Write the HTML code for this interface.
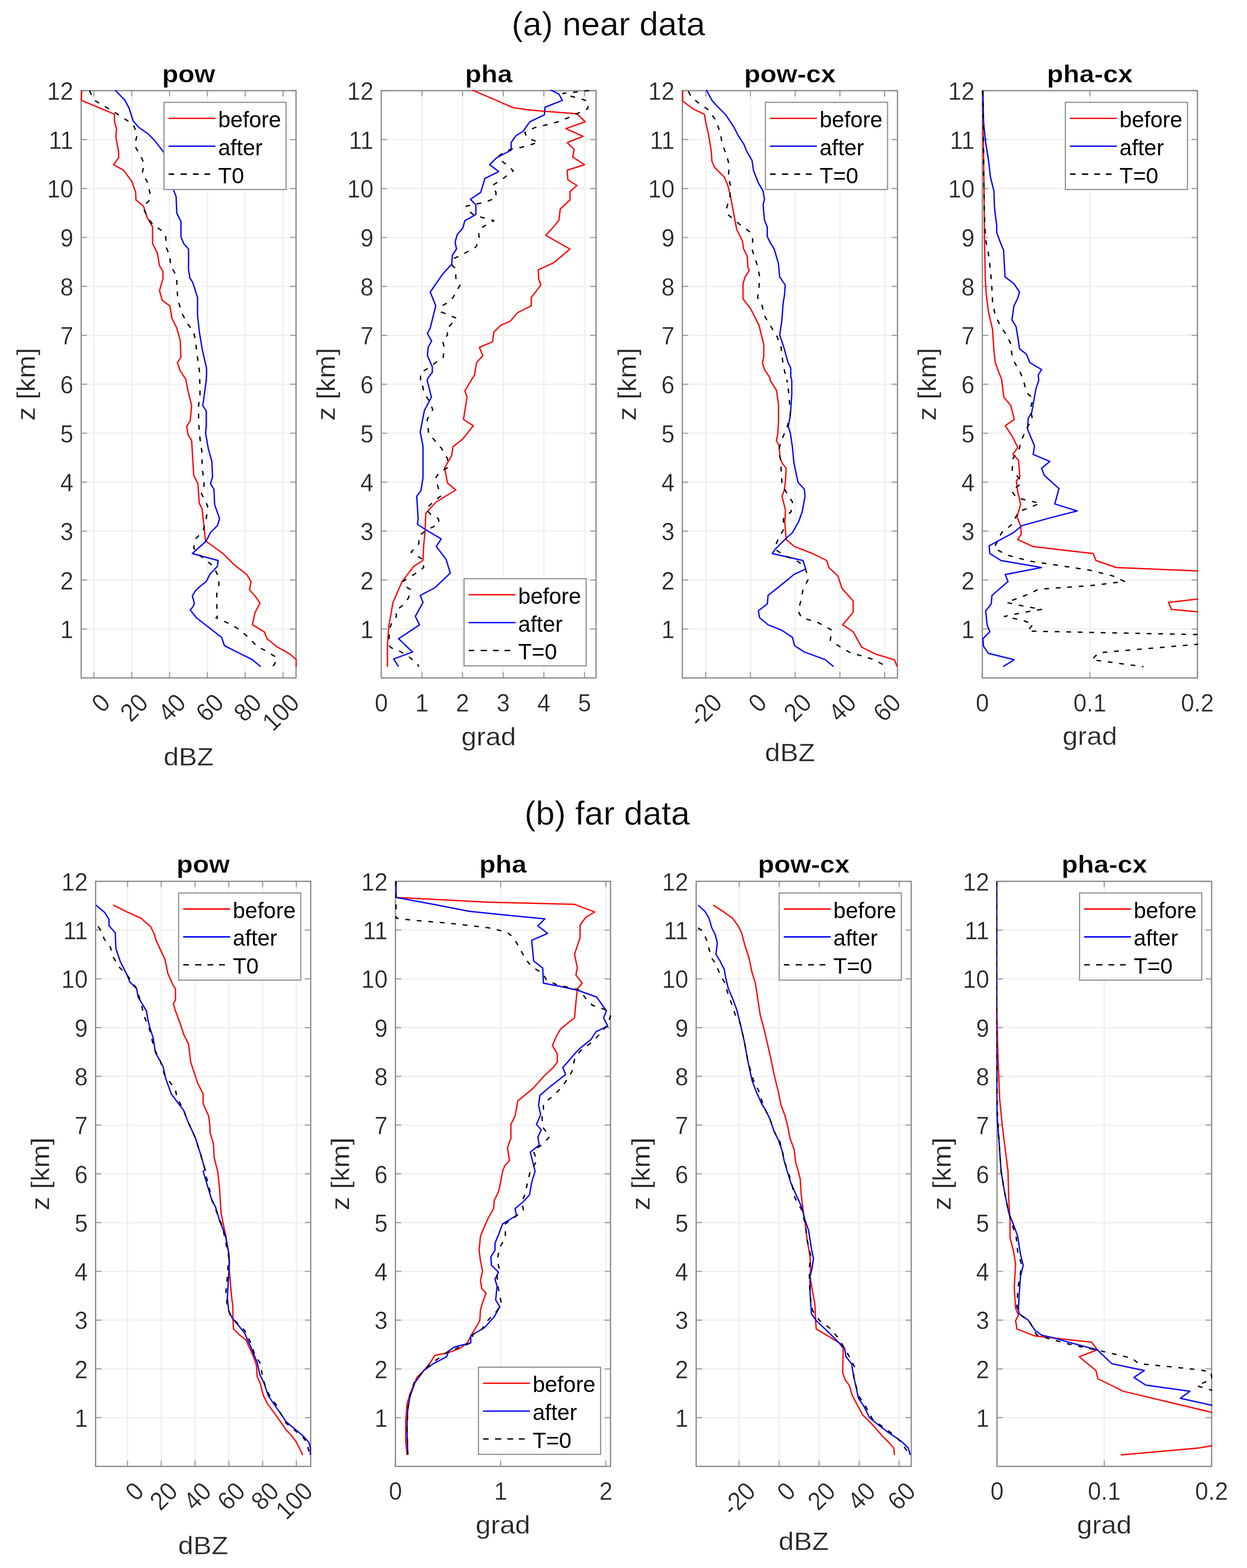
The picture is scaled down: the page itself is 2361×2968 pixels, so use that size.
<!DOCTYPE html><html><head><meta charset="utf-8"><style>html,body{margin:0;padding:0;background:#fff;overflow:hidden}svg{display:block}text{font-family:"Liberation Sans",Arial,sans-serif;stroke:#fff;stroke-width:0.4px}text.b{stroke-width:0.4px}text.l{stroke:none}</style></head><body>
<svg width="2361" height="2968" viewBox="0 0 2361 2968">
<rect width="2361" height="2968" fill="#fff"/>
<text transform="translate(1152.00 67.20) scale(1.0 0.98)" font-size="64" text-anchor="middle" fill="#000">(a) near data</text>
<text transform="translate(1149.60 1560.80) scale(1.0 0.98)" font-size="64" text-anchor="middle" fill="#000">(b) far data</text>
<line x1="177.7" y1="171.6" x2="177.7" y2="1283.2" stroke="#f0f0f0" stroke-width="2.6"/><line x1="249.4" y1="171.6" x2="249.4" y2="1283.2" stroke="#f0f0f0" stroke-width="2.6"/><line x1="321.0" y1="171.6" x2="321.0" y2="1283.2" stroke="#f0f0f0" stroke-width="2.6"/><line x1="392.7" y1="171.6" x2="392.7" y2="1283.2" stroke="#f0f0f0" stroke-width="2.6"/><line x1="464.3" y1="171.6" x2="464.3" y2="1283.2" stroke="#f0f0f0" stroke-width="2.6"/><line x1="536.0" y1="171.6" x2="536.0" y2="1283.2" stroke="#f0f0f0" stroke-width="2.6"/><line x1="153.7" y1="1190.6" x2="560.5" y2="1190.6" stroke="#f0f0f0" stroke-width="2.6"/><line x1="153.7" y1="1097.9" x2="560.5" y2="1097.9" stroke="#f0f0f0" stroke-width="2.6"/><line x1="153.7" y1="1005.3" x2="560.5" y2="1005.3" stroke="#f0f0f0" stroke-width="2.6"/><line x1="153.7" y1="912.7" x2="560.5" y2="912.7" stroke="#f0f0f0" stroke-width="2.6"/><line x1="153.7" y1="820.0" x2="560.5" y2="820.0" stroke="#f0f0f0" stroke-width="2.6"/><line x1="153.7" y1="727.4" x2="560.5" y2="727.4" stroke="#f0f0f0" stroke-width="2.6"/><line x1="153.7" y1="634.8" x2="560.5" y2="634.8" stroke="#f0f0f0" stroke-width="2.6"/><line x1="153.7" y1="542.1" x2="560.5" y2="542.1" stroke="#f0f0f0" stroke-width="2.6"/><line x1="153.7" y1="449.5" x2="560.5" y2="449.5" stroke="#f0f0f0" stroke-width="2.6"/><line x1="153.7" y1="356.9" x2="560.5" y2="356.9" stroke="#f0f0f0" stroke-width="2.6"/><line x1="153.7" y1="264.2" x2="560.5" y2="264.2" stroke="#f0f0f0" stroke-width="2.6"/>
<path d="M177.7 1283.2v-11M177.7 171.6v11M249.4 1283.2v-11M249.4 171.6v11M321.0 1283.2v-11M321.0 171.6v11M392.7 1283.2v-11M392.7 171.6v11M464.3 1283.2v-11M464.3 171.6v11M536.0 1283.2v-11M536.0 171.6v11M153.7 1190.6h11M560.5 1190.6h-11M153.7 1097.9h11M560.5 1097.9h-11M153.7 1005.3h11M560.5 1005.3h-11M153.7 912.7h11M560.5 912.7h-11M153.7 820.0h11M560.5 820.0h-11M153.7 727.4h11M560.5 727.4h-11M153.7 634.8h11M560.5 634.8h-11M153.7 542.1h11M560.5 542.1h-11M153.7 449.5h11M560.5 449.5h-11M153.7 356.9h11M560.5 356.9h-11M153.7 264.2h11M560.5 264.2h-11M153.7 171.6h11M560.5 171.6h-11" stroke="#a0a0a0" stroke-width="2.2" fill="none"/>
<rect x="153.7" y="171.6" width="406.8" height="1111.6" fill="none" stroke="#8a8a8a" stroke-width="2.4"/>
<polyline points="154.7,171.5 153.9,189.9 216.8,216.1 216.8,230.5 220.7,243.6 219.4,259.3 224.7,288.1 224.7,298.6 215.0,311.7 233.8,322.2 249.6,343.2 256.9,364.1 257.4,378.5 271.8,390.3 278.4,411.3 288.9,429.6 288.9,461.0 298.0,479.4 302.0,503.0 308.5,513.4 308.5,527.9 302.0,550.1 307.2,568.5 321.6,578.9 325.5,602.5 334.7,620.9 341.2,644.4 342.6,675.9 336.0,686.4 341.2,702.1 351.7,717.8 356.2,741.1 362.8,767.6 360.2,796.7 353.5,807.2 356.2,823.1 362.8,833.7 366.8,899.8 374.7,915.6 377.3,952.6 382.6,963.2 389.2,1024.0 422.3,1047.8 443.4,1068.9 467.2,1087.4 475.1,1100.7 472.5,1116.5 483.1,1128.4 492.3,1141.6 483.1,1158.8 477.8,1182.6 500.3,1195.8 505.5,1209.0 525.4,1224.9 549.2,1238.1 561.0,1248.7 561.0,1261.9" fill="none" stroke="#ff0000" stroke-width="2.5" stroke-linejoin="round" clip-path="url(#c00)"/>
<polyline points="217.6,170.2 236.5,189.9 244.3,204.3 252.2,229.2 262.7,241.0 281.0,254.1 292.8,265.9 309.8,288.1 320.3,322.2 328.2,358.9 333.4,372.0 334.7,403.4 342.6,419.1 342.6,447.9 347.8,461.0 357.0,471.5 357.0,510.8 359.6,526.5 364.8,534.4 374.0,563.2 374.0,597.3 377.9,631.3 383.2,662.8 391.0,696.8 391.0,709.9 390.5,720.0 386.6,749.1 383.9,767.6 390.5,778.2 390.5,807.2 389.2,820.4 394.5,849.5 401.1,873.3 402.4,902.4 398.5,915.6 405.1,926.2 406.4,955.3 415.7,981.7 411.7,994.9 398.5,1008.1 390.5,1024.0 364.1,1047.8 413.0,1061.0 411.7,1071.6 397.2,1087.4 390.5,1100.7 378.7,1109.9 369.4,1119.2 364.1,1128.4 368.1,1141.6 365.4,1148.2 360.2,1154.8 372.0,1169.4 419.6,1206.4 424.9,1222.2 454.0,1236.8 477.8,1248.7 493.6,1261.9" fill="none" stroke="#0000ff" stroke-width="2.5" stroke-linejoin="round" clip-path="url(#c00)"/>
<polyline points="169.6,171.5 173.6,180.7 178.8,189.9 220.7,214.8 252.2,235.7 260.0,254.1 254.8,275.0 269.2,301.2 273.1,311.7 269.2,327.4 278.4,343.2 283.6,364.1 284.9,377.2 274.4,387.7 273.1,398.2 281.0,413.9 288.9,424.4 307.2,437.5 313.7,447.9 315.1,468.9 321.6,484.6 322.9,503.0 330.8,516.1 334.7,531.8 336.0,558.0 338.6,573.7 345.2,594.7 357.0,615.6 366.1,626.1 370.1,644.4 372.7,668.0 375.3,686.4 377.9,704.7 378.7,746.4 376.0,767.6 376.0,799.3 378.7,831.0 382.6,857.5 382.6,883.9 385.3,905.0 386.6,918.3 380.0,931.5 386.6,944.7 393.2,957.9 390.5,981.7 386.6,997.6 383.9,1005.5 369.4,1021.3 366.8,1037.2 373.4,1045.1 377.3,1050.4 403.8,1071.6 414.3,1092.7 414.3,1108.6 410.4,1124.4 410.4,1142.9 411.7,1166.7 409.1,1169.4 432.8,1180.0 451.3,1190.5 467.2,1203.7 485.7,1222.2 504.2,1232.8 524.0,1244.7 520.1,1256.6 516.1,1261.9" fill="none" stroke="#000" stroke-width="2.5" stroke-linejoin="round" stroke-dasharray="9 12.8" clip-path="url(#c00)"/>
<clipPath id="c00"><rect x="152.4" y="170.3" width="409.4" height="1114.2"/></clipPath>
<g font-size="46.5" fill="#262626"><text transform="translate(138.90 1208.17) scale(0.965 1.04)" text-anchor="end">1</text><text transform="translate(138.90 1115.53) scale(0.965 1.04)" text-anchor="end">2</text><text transform="translate(138.90 1022.90) scale(0.965 1.04)" text-anchor="end">3</text><text transform="translate(138.90 930.27) scale(0.965 1.04)" text-anchor="end">4</text><text transform="translate(138.90 837.63) scale(0.965 1.04)" text-anchor="end">5</text><text transform="translate(138.90 745.00) scale(0.965 1.04)" text-anchor="end">6</text><text transform="translate(138.90 652.37) scale(0.965 1.04)" text-anchor="end">7</text><text transform="translate(138.90 559.73) scale(0.965 1.04)" text-anchor="end">8</text><text transform="translate(138.90 467.10) scale(0.965 1.04)" text-anchor="end">9</text><text transform="translate(138.90 374.47) scale(0.965 1.04)" text-anchor="end">10</text><text transform="translate(138.90 281.83) scale(0.965 1.04)" text-anchor="end">11</text><text transform="translate(138.90 189.20) scale(0.965 1.04)" text-anchor="end">12</text></g>
<g font-size="46.5" fill="#262626"><text transform="translate(199.70 1321.70) rotate(-45) scale(0.965 1.04)" text-anchor="end" dominant-baseline="central">0</text><text transform="translate(271.36 1321.70) rotate(-45) scale(0.965 1.04)" text-anchor="end" dominant-baseline="central">20</text><text transform="translate(343.02 1321.70) rotate(-45) scale(0.965 1.04)" text-anchor="end" dominant-baseline="central">40</text><text transform="translate(414.68 1321.70) rotate(-45) scale(0.965 1.04)" text-anchor="end" dominant-baseline="central">60</text><text transform="translate(486.34 1321.70) rotate(-45) scale(0.965 1.04)" text-anchor="end" dominant-baseline="central">80</text><text transform="translate(558.00 1321.70) rotate(-45) scale(0.965 1.04)" text-anchor="end" dominant-baseline="central">100</text></g>
<text transform="translate(357.10 1449.40) scale(1.014 0.93)" font-size="51" text-anchor="middle" fill="#262626">dBZ</text>
<text transform="translate(65.90 727.40) rotate(-90) scale(1.014 0.93)" font-size="51" text-anchor="middle" fill="#262626">z [km]</text>
<text transform="translate(357.10 155.70) scale(0.988 0.9)" font-size="51" font-weight="bold" class="b" text-anchor="middle" fill="#000">pow</text>
<rect x="310.5" y="193.7" width="231.2" height="165.0" fill="#fff" stroke="#8f8f8f" stroke-width="2.2"/><line x1="319.1" y1="224.0" x2="408.0" y2="224.0" stroke="#ff0000" stroke-width="2.6"/><text x="413.0" y="241.0" font-size="42" class="l" fill="#000">before</text><line x1="319.1" y1="276.8" x2="408.0" y2="276.8" stroke="#0000ff" stroke-width="2.6"/><text x="413.0" y="293.8" font-size="42" class="l" fill="#000">after</text><path d="M319.3 329.6h10.5M341.8 329.6h12M365.2 329.6h11M387.0 329.6h11" stroke="#000" stroke-width="2.6"/><text x="413.0" y="346.6" font-size="42" class="l" fill="#000">T0</text>
<line x1="798.9" y1="171.6" x2="798.9" y2="1283.2" stroke="#f0f0f0" stroke-width="2.6"/><line x1="875.8" y1="171.6" x2="875.8" y2="1283.2" stroke="#f0f0f0" stroke-width="2.6"/><line x1="952.8" y1="171.6" x2="952.8" y2="1283.2" stroke="#f0f0f0" stroke-width="2.6"/><line x1="1029.7" y1="171.6" x2="1029.7" y2="1283.2" stroke="#f0f0f0" stroke-width="2.6"/><line x1="1106.7" y1="171.6" x2="1106.7" y2="1283.2" stroke="#f0f0f0" stroke-width="2.6"/><line x1="721.9" y1="1190.6" x2="1128.6" y2="1190.6" stroke="#f0f0f0" stroke-width="2.6"/><line x1="721.9" y1="1097.9" x2="1128.6" y2="1097.9" stroke="#f0f0f0" stroke-width="2.6"/><line x1="721.9" y1="1005.3" x2="1128.6" y2="1005.3" stroke="#f0f0f0" stroke-width="2.6"/><line x1="721.9" y1="912.7" x2="1128.6" y2="912.7" stroke="#f0f0f0" stroke-width="2.6"/><line x1="721.9" y1="820.0" x2="1128.6" y2="820.0" stroke="#f0f0f0" stroke-width="2.6"/><line x1="721.9" y1="727.4" x2="1128.6" y2="727.4" stroke="#f0f0f0" stroke-width="2.6"/><line x1="721.9" y1="634.8" x2="1128.6" y2="634.8" stroke="#f0f0f0" stroke-width="2.6"/><line x1="721.9" y1="542.1" x2="1128.6" y2="542.1" stroke="#f0f0f0" stroke-width="2.6"/><line x1="721.9" y1="449.5" x2="1128.6" y2="449.5" stroke="#f0f0f0" stroke-width="2.6"/><line x1="721.9" y1="356.9" x2="1128.6" y2="356.9" stroke="#f0f0f0" stroke-width="2.6"/><line x1="721.9" y1="264.2" x2="1128.6" y2="264.2" stroke="#f0f0f0" stroke-width="2.6"/>
<path d="M721.9 1283.2v-11M721.9 171.6v11M798.9 1283.2v-11M798.9 171.6v11M875.8 1283.2v-11M875.8 171.6v11M952.8 1283.2v-11M952.8 171.6v11M1029.7 1283.2v-11M1029.7 171.6v11M1106.7 1283.2v-11M1106.7 171.6v11M721.9 1190.6h11M1128.6 1190.6h-11M721.9 1097.9h11M1128.6 1097.9h-11M721.9 1005.3h11M1128.6 1005.3h-11M721.9 912.7h11M1128.6 912.7h-11M721.9 820.0h11M1128.6 820.0h-11M721.9 727.4h11M1128.6 727.4h-11M721.9 634.8h11M1128.6 634.8h-11M721.9 542.1h11M1128.6 542.1h-11M721.9 449.5h11M1128.6 449.5h-11M721.9 356.9h11M1128.6 356.9h-11M721.9 264.2h11M1128.6 264.2h-11M721.9 171.6h11M1128.6 171.6h-11" stroke="#a0a0a0" stroke-width="2.2" fill="none"/>
<rect x="721.9" y="171.6" width="406.7" height="1111.6" fill="none" stroke="#8a8a8a" stroke-width="2.4"/>
<polyline points="893.2,170.2 924.6,183.3 966.5,201.7 974.4,204.3 1003.2,208.2 1032.0,210.8 1092.3,215.3 1108.0,230.5 1071.3,243.6 1104.0,258.0 1073.9,269.8 1087.0,282.9 1084.4,297.3 1106.7,311.7 1073.9,322.2 1075.2,340.5 1092.3,351.0 1079.2,362.8 1079.2,378.5 1060.8,395.5 1058.2,416.5 1050.3,427.0 1033.3,445.3 1079.2,471.5 1047.7,497.7 1018.9,510.8 1020.2,529.2 1024.1,539.6 1005.8,563.2 1005.8,578.9 979.6,592.0 966.5,607.8 948.2,615.6 935.1,628.7 932.4,647.1 907.6,657.5 914.1,673.3 902.3,686.4 898.4,709.9 892.1,720.0 880.2,739.8 884.2,751.7 877.6,794.0 896.1,805.9 876.2,831.0 857.7,845.6 855.1,862.7 841.9,885.2 847.2,914.3 863.0,927.5 826.0,950.0 806.2,971.1 804.9,1004.2 802.2,1031.9 800.9,1061.0 783.7,1071.6 761.3,1100.7 744.1,1140.3 736.1,1185.2 733.5,1222.2 733.5,1261.9" fill="none" stroke="#ff0000" stroke-width="2.5" stroke-linejoin="round" clip-path="url(#c01)"/>
<polyline points="1039.9,168.9 1058.2,178.1 1064.8,189.9 1032.0,203.0 1030.7,217.4 1003.2,230.5 990.1,248.8 977.0,256.7 967.8,269.8 967.8,284.2 940.3,298.6 927.2,311.7 944.2,324.8 918.0,337.9 910.2,364.1 890.5,377.2 901.0,387.7 901.0,406.0 880.1,417.8 876.1,432.2 865.6,444.0 861.7,458.4 864.3,471.5 856.5,483.3 855.2,500.3 838.1,518.7 814.6,552.7 825.0,578.9 819.8,599.9 814.6,620.9 809.3,631.3 817.2,645.7 810.6,657.5 809.3,673.3 818.5,694.2 818.5,704.7 810.6,715.2 808.8,720.0 816.8,751.7 803.6,776.8 795.6,817.8 800.9,844.2 800.9,905.0 796.9,928.8 789.0,939.4 791.7,981.7 790.3,992.3 806.2,1002.8 835.3,1020.0 826.0,1034.6 844.5,1058.4 852.5,1084.8 823.4,1112.5 795.6,1127.1 800.9,1140.3 786.4,1166.7 794.3,1182.6 754.7,1209.0 781.1,1234.1 745.4,1247.4 754.7,1261.9" fill="none" stroke="#0000ff" stroke-width="2.5" stroke-linejoin="round" clip-path="url(#c01)"/>
<polyline points="1115.6,171.3 1065.8,176.8 1079.4,181.8 1101.2,187.5 1113.7,192.0 1113.0,205.6 1099.3,211.9 1075.8,222.9 1055.1,231.0 1034.1,236.5 1012.6,241.5 993.5,250.9 999.0,261.7 1019.7,269.0 1001.6,275.0 983.5,279.7 974.4,280.3 958.6,285.5 942.9,296.0 952.1,306.5 962.6,314.3 971.7,323.5 950.8,339.2 932.4,351.0 939.0,364.1 939.0,374.6 919.3,382.4 901.0,386.4 882.7,390.3 882.7,395.5 895.8,406.0 911.5,411.3 922.0,413.9 935.1,417.8 914.1,429.6 906.2,440.1 907.6,453.2 901.0,467.6 874.8,482.0 857.8,489.9 856.5,503.0 863.0,508.2 863.0,526.5 870.9,539.6 857.8,563.2 846.0,573.7 836.8,578.9 835.5,590.7 846.0,594.7 864.3,602.5 852.5,615.6 846.0,622.2 847.3,634.0 838.1,644.4 840.8,657.5 839.4,675.9 825.0,686.4 814.6,694.2 806.7,699.5 796.2,704.7 796.2,720.4 798.3,720.0 802.2,741.1 812.8,759.7 819.4,775.5 808.8,794.0 811.5,820.4 836.6,849.5 847.2,868.0 847.2,885.2 831.3,894.5 824.7,905.0 831.3,928.8 834.0,939.4 823.4,947.3 806.2,963.2 815.4,973.8 830.0,981.7 831.3,990.9 819.4,997.6 806.2,1004.2 793.0,1014.7 793.0,1029.3 778.4,1045.1 799.6,1058.4 802.2,1074.2 783.7,1087.4 762.6,1100.7 765.2,1108.6 778.4,1116.5 773.2,1132.4 762.6,1145.6 749.4,1156.2 750.7,1166.7 741.4,1180.0 737.5,1190.5 736.1,1222.2 746.7,1230.2 757.3,1232.8 774.5,1243.4 790.3,1256.6 793.0,1261.9" fill="none" stroke="#000" stroke-width="2.5" stroke-linejoin="round" stroke-dasharray="9 12.8" clip-path="url(#c01)"/>
<clipPath id="c01"><rect x="720.6" y="170.3" width="409.3" height="1114.2"/></clipPath>
<g font-size="46.5" fill="#262626"><text transform="translate(707.10 1208.17) scale(0.965 1.04)" text-anchor="end">1</text><text transform="translate(707.10 1115.53) scale(0.965 1.04)" text-anchor="end">2</text><text transform="translate(707.10 1022.90) scale(0.965 1.04)" text-anchor="end">3</text><text transform="translate(707.10 930.27) scale(0.965 1.04)" text-anchor="end">4</text><text transform="translate(707.10 837.63) scale(0.965 1.04)" text-anchor="end">5</text><text transform="translate(707.10 745.00) scale(0.965 1.04)" text-anchor="end">6</text><text transform="translate(707.10 652.37) scale(0.965 1.04)" text-anchor="end">7</text><text transform="translate(707.10 559.73) scale(0.965 1.04)" text-anchor="end">8</text><text transform="translate(707.10 467.10) scale(0.965 1.04)" text-anchor="end">9</text><text transform="translate(707.10 374.47) scale(0.965 1.04)" text-anchor="end">10</text><text transform="translate(707.10 281.83) scale(0.965 1.04)" text-anchor="end">11</text><text transform="translate(707.10 189.20) scale(0.965 1.04)" text-anchor="end">12</text></g>
<g font-size="46.5" fill="#262626"><text transform="translate(721.90 1346.70) scale(0.965 1.04)" text-anchor="middle">0</text><text transform="translate(798.86 1346.70) scale(0.965 1.04)" text-anchor="middle">1</text><text transform="translate(875.82 1346.70) scale(0.965 1.04)" text-anchor="middle">2</text><text transform="translate(952.78 1346.70) scale(0.965 1.04)" text-anchor="middle">3</text><text transform="translate(1029.74 1346.70) scale(0.965 1.04)" text-anchor="middle">4</text><text transform="translate(1106.70 1346.70) scale(0.965 1.04)" text-anchor="middle">5</text></g>
<text transform="translate(925.25 1410.60) scale(1.014 0.93)" font-size="51" text-anchor="middle" fill="#262626">grad</text>
<text transform="translate(634.10 727.40) rotate(-90) scale(1.014 0.93)" font-size="51" text-anchor="middle" fill="#262626">z [km]</text>
<text transform="translate(925.25 155.70) scale(0.988 0.9)" font-size="51" font-weight="bold" class="b" text-anchor="middle" fill="#000">pha</text>
<rect x="878.6" y="1095.4" width="231.2" height="165.0" fill="#fff" stroke="#8f8f8f" stroke-width="2.2"/><line x1="887.2" y1="1125.7" x2="976.1" y2="1125.7" stroke="#ff0000" stroke-width="2.6"/><text x="981.1" y="1142.7" font-size="42" class="l" fill="#000">before</text><line x1="887.2" y1="1178.5" x2="976.1" y2="1178.5" stroke="#0000ff" stroke-width="2.6"/><text x="981.1" y="1195.5" font-size="42" class="l" fill="#000">after</text><path d="M887.4 1231.3h10.5M909.9 1231.3h12M933.3 1231.3h11M955.1 1231.3h11" stroke="#000" stroke-width="2.6"/><text x="981.1" y="1248.3" font-size="42" class="l" fill="#000">T=0</text>
<line x1="1336.2" y1="171.6" x2="1336.2" y2="1283.2" stroke="#f0f0f0" stroke-width="2.6"/><line x1="1420.9" y1="171.6" x2="1420.9" y2="1283.2" stroke="#f0f0f0" stroke-width="2.6"/><line x1="1505.6" y1="171.6" x2="1505.6" y2="1283.2" stroke="#f0f0f0" stroke-width="2.6"/><line x1="1590.3" y1="171.6" x2="1590.3" y2="1283.2" stroke="#f0f0f0" stroke-width="2.6"/><line x1="1675.0" y1="171.6" x2="1675.0" y2="1283.2" stroke="#f0f0f0" stroke-width="2.6"/><line x1="1291.9" y1="1190.6" x2="1699.2" y2="1190.6" stroke="#f0f0f0" stroke-width="2.6"/><line x1="1291.9" y1="1097.9" x2="1699.2" y2="1097.9" stroke="#f0f0f0" stroke-width="2.6"/><line x1="1291.9" y1="1005.3" x2="1699.2" y2="1005.3" stroke="#f0f0f0" stroke-width="2.6"/><line x1="1291.9" y1="912.7" x2="1699.2" y2="912.7" stroke="#f0f0f0" stroke-width="2.6"/><line x1="1291.9" y1="820.0" x2="1699.2" y2="820.0" stroke="#f0f0f0" stroke-width="2.6"/><line x1="1291.9" y1="727.4" x2="1699.2" y2="727.4" stroke="#f0f0f0" stroke-width="2.6"/><line x1="1291.9" y1="634.8" x2="1699.2" y2="634.8" stroke="#f0f0f0" stroke-width="2.6"/><line x1="1291.9" y1="542.1" x2="1699.2" y2="542.1" stroke="#f0f0f0" stroke-width="2.6"/><line x1="1291.9" y1="449.5" x2="1699.2" y2="449.5" stroke="#f0f0f0" stroke-width="2.6"/><line x1="1291.9" y1="356.9" x2="1699.2" y2="356.9" stroke="#f0f0f0" stroke-width="2.6"/><line x1="1291.9" y1="264.2" x2="1699.2" y2="264.2" stroke="#f0f0f0" stroke-width="2.6"/>
<path d="M1336.2 1283.2v-11M1336.2 171.6v11M1420.9 1283.2v-11M1420.9 171.6v11M1505.6 1283.2v-11M1505.6 171.6v11M1590.3 1283.2v-11M1590.3 171.6v11M1675.0 1283.2v-11M1675.0 171.6v11M1291.9 1190.6h11M1699.2 1190.6h-11M1291.9 1097.9h11M1699.2 1097.9h-11M1291.9 1005.3h11M1699.2 1005.3h-11M1291.9 912.7h11M1699.2 912.7h-11M1291.9 820.0h11M1699.2 820.0h-11M1291.9 727.4h11M1699.2 727.4h-11M1291.9 634.8h11M1699.2 634.8h-11M1291.9 542.1h11M1699.2 542.1h-11M1291.9 449.5h11M1699.2 449.5h-11M1291.9 356.9h11M1699.2 356.9h-11M1291.9 264.2h11M1699.2 264.2h-11M1291.9 171.6h11M1699.2 171.6h-11" stroke="#a0a0a0" stroke-width="2.2" fill="none"/>
<rect x="1291.9" y="171.6" width="407.3" height="1111.6" fill="none" stroke="#8a8a8a" stroke-width="2.4"/>
<polyline points="1292.3,171.5 1292.3,191.2 1313.8,206.9 1333.5,216.1 1336.1,230.5 1341.3,254.1 1346.6,285.5 1347.9,305.2 1353.1,317.0 1371.5,335.3 1378.0,351.0 1383.2,372.0 1388.5,400.8 1392.4,421.7 1395.0,434.8 1405.5,455.8 1408.1,471.5 1414.7,484.6 1416.0,505.6 1418.6,512.1 1410.8,523.9 1406.8,537.0 1406.8,565.8 1421.2,584.2 1429.1,599.9 1437.0,615.6 1442.2,636.6 1446.1,652.3 1446.1,675.9 1443.5,686.4 1447.4,699.5 1457.9,715.2 1458.1,720.0 1470.0,738.5 1474.0,764.9 1474.0,796.7 1472.7,820.4 1470.0,833.7 1475.3,844.2 1476.6,865.4 1480.6,876.0 1488.5,886.5 1487.2,910.3 1484.6,928.8 1480.6,939.4 1487.2,965.8 1485.9,989.6 1488.5,1021.3 1504.4,1034.6 1538.8,1047.8 1565.2,1061.0 1569.2,1074.2 1586.3,1090.1 1594.3,1113.9 1615.4,1137.7 1615.4,1158.8 1595.6,1182.6 1615.4,1195.8 1631.3,1224.9 1657.7,1238.1 1693.4,1248.7 1698.7,1261.9" fill="none" stroke="#ff0000" stroke-width="2.5" stroke-linejoin="round" clip-path="url(#c02)"/>
<polyline points="1337.4,170.2 1347.9,189.9 1358.4,201.7 1374.1,217.4 1389.8,241.0 1397.7,256.7 1408.1,272.4 1413.4,285.5 1423.9,303.9 1426.5,322.2 1435.6,345.8 1444.8,361.5 1447.4,377.2 1444.8,387.7 1447.4,416.5 1452.7,429.6 1452.7,447.9 1457.9,458.4 1465.8,471.5 1473.6,497.7 1476.2,523.9 1486.7,539.6 1485.4,558.0 1482.8,573.7 1480.2,607.8 1476.2,634.0 1484.1,657.5 1492.0,686.4 1497.2,696.8 1497.2,712.6 1499.1,720.0 1499.1,746.4 1496.5,786.1 1492.5,807.2 1496.5,820.4 1500.4,846.9 1503.1,876.0 1511.0,913.0 1522.9,926.2 1524.2,939.4 1518.9,968.5 1512.3,987.0 1500.4,1008.1 1485.9,1021.3 1467.4,1039.9 1462.1,1047.8 1520.3,1061.0 1525.5,1076.9 1503.1,1087.4 1493.8,1095.4 1454.2,1127.1 1452.9,1142.9 1435.7,1156.2 1438.3,1169.4 1454.2,1182.6 1480.6,1193.2 1500.4,1206.4 1504.4,1222.2 1522.9,1234.1 1562.6,1248.7 1578.4,1261.9" fill="none" stroke="#0000ff" stroke-width="2.5" stroke-linejoin="round" clip-path="url(#c02)"/>
<polyline points="1303.3,172.9 1308.6,183.3 1324.3,196.4 1340.0,206.9 1355.7,227.9 1363.6,251.5 1367.5,272.4 1375.4,293.4 1380.6,311.7 1379.3,332.7 1383.2,353.6 1381.9,372.0 1375.4,395.5 1378.0,406.0 1387.2,413.9 1400.3,424.4 1421.2,440.1 1425.2,453.2 1423.9,471.5 1427.8,484.6 1434.3,503.0 1438.3,523.9 1437.0,544.9 1434.3,563.2 1442.2,576.3 1448.7,599.9 1457.9,615.6 1471.0,636.6 1478.9,657.5 1481.5,681.1 1485.4,702.1 1490.7,723.0 1489.9,720.0 1493.8,746.4 1496.5,783.4 1489.9,809.9 1480.6,831.0 1474.0,852.2 1478.0,870.7 1479.3,894.5 1480.6,915.6 1489.9,934.1 1500.4,950.0 1497.8,968.5 1483.3,981.7 1483.3,1002.8 1475.3,1016.1 1467.4,1034.6 1470.0,1041.2 1483.3,1050.4 1512.3,1063.6 1524.2,1074.2 1530.8,1095.4 1520.3,1116.5 1516.3,1137.7 1511.0,1156.2 1517.6,1169.4 1546.7,1177.3 1575.8,1193.2 1571.8,1211.7 1591.6,1224.9 1610.1,1235.5 1633.9,1242.1 1655.1,1248.7 1678.9,1261.9" fill="none" stroke="#000" stroke-width="2.5" stroke-linejoin="round" stroke-dasharray="9 12.8" clip-path="url(#c02)"/>
<clipPath id="c02"><rect x="1290.6" y="170.3" width="409.9" height="1114.2"/></clipPath>
<g font-size="46.5" fill="#262626"><text transform="translate(1277.10 1208.17) scale(0.965 1.04)" text-anchor="end">1</text><text transform="translate(1277.10 1115.53) scale(0.965 1.04)" text-anchor="end">2</text><text transform="translate(1277.10 1022.90) scale(0.965 1.04)" text-anchor="end">3</text><text transform="translate(1277.10 930.27) scale(0.965 1.04)" text-anchor="end">4</text><text transform="translate(1277.10 837.63) scale(0.965 1.04)" text-anchor="end">5</text><text transform="translate(1277.10 745.00) scale(0.965 1.04)" text-anchor="end">6</text><text transform="translate(1277.10 652.37) scale(0.965 1.04)" text-anchor="end">7</text><text transform="translate(1277.10 559.73) scale(0.965 1.04)" text-anchor="end">8</text><text transform="translate(1277.10 467.10) scale(0.965 1.04)" text-anchor="end">9</text><text transform="translate(1277.10 374.47) scale(0.965 1.04)" text-anchor="end">10</text><text transform="translate(1277.10 281.83) scale(0.965 1.04)" text-anchor="end">11</text><text transform="translate(1277.10 189.20) scale(0.965 1.04)" text-anchor="end">12</text></g>
<g font-size="46.5" fill="#262626"><text transform="translate(1358.20 1321.70) rotate(-45) scale(0.965 1.04)" text-anchor="end" dominant-baseline="central">-20</text><text transform="translate(1442.90 1321.70) rotate(-45) scale(0.965 1.04)" text-anchor="end" dominant-baseline="central">0</text><text transform="translate(1527.60 1321.70) rotate(-45) scale(0.965 1.04)" text-anchor="end" dominant-baseline="central">20</text><text transform="translate(1612.30 1321.70) rotate(-45) scale(0.965 1.04)" text-anchor="end" dominant-baseline="central">40</text><text transform="translate(1697.00 1321.70) rotate(-45) scale(0.965 1.04)" text-anchor="end" dominant-baseline="central">60</text></g>
<text transform="translate(1495.55 1441.20) scale(1.014 0.93)" font-size="51" text-anchor="middle" fill="#262626">dBZ</text>
<text transform="translate(1204.10 727.40) rotate(-90) scale(1.014 0.93)" font-size="51" text-anchor="middle" fill="#262626">z [km]</text>
<text transform="translate(1495.55 155.70) scale(0.988 0.9)" font-size="51" font-weight="bold" class="b" text-anchor="middle" fill="#000">pow-cx</text>
<rect x="1449.2" y="193.7" width="231.2" height="165.0" fill="#fff" stroke="#8f8f8f" stroke-width="2.2"/><line x1="1457.8" y1="224.0" x2="1546.7" y2="224.0" stroke="#ff0000" stroke-width="2.6"/><text x="1551.7" y="241.0" font-size="42" class="l" fill="#000">before</text><line x1="1457.8" y1="276.8" x2="1546.7" y2="276.8" stroke="#0000ff" stroke-width="2.6"/><text x="1551.7" y="293.8" font-size="42" class="l" fill="#000">after</text><path d="M1458.0 329.6h10.5M1480.5 329.6h12M1503.9 329.6h11M1525.7 329.6h11" stroke="#000" stroke-width="2.6"/><text x="1551.7" y="346.6" font-size="42" class="l" fill="#000">T=0</text>
<line x1="2063.5" y1="171.6" x2="2063.5" y2="1283.2" stroke="#f0f0f0" stroke-width="2.6"/><line x1="1859.9" y1="1190.6" x2="2267.1" y2="1190.6" stroke="#f0f0f0" stroke-width="2.6"/><line x1="1859.9" y1="1097.9" x2="2267.1" y2="1097.9" stroke="#f0f0f0" stroke-width="2.6"/><line x1="1859.9" y1="1005.3" x2="2267.1" y2="1005.3" stroke="#f0f0f0" stroke-width="2.6"/><line x1="1859.9" y1="912.7" x2="2267.1" y2="912.7" stroke="#f0f0f0" stroke-width="2.6"/><line x1="1859.9" y1="820.0" x2="2267.1" y2="820.0" stroke="#f0f0f0" stroke-width="2.6"/><line x1="1859.9" y1="727.4" x2="2267.1" y2="727.4" stroke="#f0f0f0" stroke-width="2.6"/><line x1="1859.9" y1="634.8" x2="2267.1" y2="634.8" stroke="#f0f0f0" stroke-width="2.6"/><line x1="1859.9" y1="542.1" x2="2267.1" y2="542.1" stroke="#f0f0f0" stroke-width="2.6"/><line x1="1859.9" y1="449.5" x2="2267.1" y2="449.5" stroke="#f0f0f0" stroke-width="2.6"/><line x1="1859.9" y1="356.9" x2="2267.1" y2="356.9" stroke="#f0f0f0" stroke-width="2.6"/><line x1="1859.9" y1="264.2" x2="2267.1" y2="264.2" stroke="#f0f0f0" stroke-width="2.6"/>
<path d="M1859.9 1283.2v-11M1859.9 171.6v11M2063.5 1283.2v-11M2063.5 171.6v11M2267.1 1283.2v-11M2267.1 171.6v11M1859.9 1190.6h11M2267.1 1190.6h-11M1859.9 1097.9h11M2267.1 1097.9h-11M1859.9 1005.3h11M2267.1 1005.3h-11M1859.9 912.7h11M2267.1 912.7h-11M1859.9 820.0h11M2267.1 820.0h-11M1859.9 727.4h11M2267.1 727.4h-11M1859.9 634.8h11M2267.1 634.8h-11M1859.9 542.1h11M2267.1 542.1h-11M1859.9 449.5h11M2267.1 449.5h-11M1859.9 356.9h11M2267.1 356.9h-11M1859.9 264.2h11M2267.1 264.2h-11M1859.9 171.6h11M2267.1 171.6h-11" stroke="#a0a0a0" stroke-width="2.2" fill="none"/>
<rect x="1859.9" y="171.6" width="407.2" height="1111.6" fill="none" stroke="#8a8a8a" stroke-width="2.4"/>
<polyline points="1860.9,171.5 1861.4,243.6 1863.0,348.4 1864.0,453.2 1865.6,531.8 1867.4,558.0 1871.3,589.4 1879.2,623.5 1881.8,662.8 1884.4,686.4 1891.0,704.7 1897.5,720.4 1896.6,720.0 1900.6,751.7 1913.8,767.6 1920.4,794.0 1903.2,805.9 1916.4,825.7 1927.0,846.9 1917.8,860.1 1928.3,870.7 1931.0,902.4 1924.4,910.3 1927.0,931.5 1929.7,942.0 1932.3,955.3 1928.3,968.5 1925.7,979.1 1932.3,994.9 1933.6,1010.8 1927.0,1021.3 1956.1,1034.6 2069.8,1047.8 2075.0,1061.0 2113.4,1074.2 2302.4,1082.1 2302.4,1129.7 2212.5,1140.3 2217.8,1153.5 2302.4,1161.4 2328.8,1261.9" fill="none" stroke="#ff0000" stroke-width="2.5" stroke-linejoin="round" clip-path="url(#c03)"/>
<polyline points="1860.9,171.5 1862.2,230.5 1866.1,269.8 1871.3,301.2 1875.3,335.3 1881.8,361.5 1883.1,395.5 1887.1,427.0 1887.1,440.1 1894.9,461.0 1900.2,474.1 1902.8,523.9 1919.8,537.0 1930.3,552.7 1926.4,565.8 1919.8,578.9 1915.9,605.1 1923.7,618.2 1927.7,641.8 1930.3,660.2 1943.4,670.6 1949.9,686.4 1963.0,694.2 1972.2,699.5 1965.7,709.9 1966.7,720.0 1961.4,735.9 1953.4,780.8 1946.8,791.4 1945.5,812.5 1958.7,844.2 1956.1,860.1 1987.8,873.3 1972.0,886.5 1977.2,899.8 2005.0,924.9 1997.1,953.9 2039.4,967.2 1987.8,980.4 1934.9,994.9 1919.1,1008.1 1872.8,1033.2 1874.1,1047.8 1895.3,1061.0 1972.0,1074.2 1903.2,1087.4 1908.5,1100.7 1878.1,1127.1 1876.8,1142.9 1866.2,1156.2 1868.9,1182.6 1874.1,1195.8 1860.9,1209.0 1862.3,1223.6 1871.5,1236.8 1920.4,1248.7 1899.3,1261.9" fill="none" stroke="#0000ff" stroke-width="2.5" stroke-linejoin="round" clip-path="url(#c03)"/>
<polyline points="1860.9,171.5 1862.2,296.0 1863.5,400.8 1866.1,453.2 1871.3,479.4 1875.3,510.8 1877.9,544.9 1879.2,571.1 1884.4,597.3 1894.9,618.2 1905.4,634.0 1913.3,649.7 1915.9,670.6 1921.1,686.4 1931.6,704.7 1937.6,720.0 1944.2,743.8 1956.1,754.4 1950.8,772.9 1954.8,794.0 1944.2,809.9 1934.9,831.0 1929.7,849.5 1917.8,868.0 1916.4,891.8 1929.7,905.0 1933.6,915.6 1915.1,928.8 1924.4,942.0 1945.5,947.3 1969.3,952.6 1942.9,963.2 1928.3,968.5 1916.4,992.3 1896.6,1008.1 1882.1,1037.2 1905.9,1050.4 1950.8,1062.3 1995.7,1068.9 2064.5,1079.5 2106.8,1090.1 2129.2,1100.7 2064.5,1108.6 1966.7,1115.2 1948.2,1124.4 1905.9,1140.3 1929.7,1145.6 1972.0,1153.5 1940.2,1158.8 1901.9,1166.7 1937.6,1174.7 1956.1,1181.3 1945.5,1194.5 2064.5,1197.1 2268.0,1201.1 2302.4,1206.4 2302.4,1217.0 2268.0,1219.6 2080.3,1235.5 2067.1,1248.7 2164.9,1261.9" fill="none" stroke="#000" stroke-width="2.5" stroke-linejoin="round" stroke-dasharray="9 12.8" clip-path="url(#c03)"/>
<clipPath id="c03"><rect x="1858.6" y="170.3" width="409.8" height="1114.2"/></clipPath>
<g font-size="46.5" fill="#262626"><text transform="translate(1845.10 1208.17) scale(0.965 1.04)" text-anchor="end">1</text><text transform="translate(1845.10 1115.53) scale(0.965 1.04)" text-anchor="end">2</text><text transform="translate(1845.10 1022.90) scale(0.965 1.04)" text-anchor="end">3</text><text transform="translate(1845.10 930.27) scale(0.965 1.04)" text-anchor="end">4</text><text transform="translate(1845.10 837.63) scale(0.965 1.04)" text-anchor="end">5</text><text transform="translate(1845.10 745.00) scale(0.965 1.04)" text-anchor="end">6</text><text transform="translate(1845.10 652.37) scale(0.965 1.04)" text-anchor="end">7</text><text transform="translate(1845.10 559.73) scale(0.965 1.04)" text-anchor="end">8</text><text transform="translate(1845.10 467.10) scale(0.965 1.04)" text-anchor="end">9</text><text transform="translate(1845.10 374.47) scale(0.965 1.04)" text-anchor="end">10</text><text transform="translate(1845.10 281.83) scale(0.965 1.04)" text-anchor="end">11</text><text transform="translate(1845.10 189.20) scale(0.965 1.04)" text-anchor="end">12</text></g>
<g font-size="46.5" fill="#262626"><text transform="translate(1859.90 1346.70) scale(0.965 1.04)" text-anchor="middle">0</text><text transform="translate(2063.50 1346.70) scale(0.965 1.04)" text-anchor="middle">0.1</text><text transform="translate(2267.10 1346.70) scale(0.965 1.04)" text-anchor="middle">0.2</text></g>
<text transform="translate(2063.50 1410.10) scale(1.014 0.93)" font-size="51" text-anchor="middle" fill="#262626">grad</text>
<text transform="translate(1772.10 727.40) rotate(-90) scale(1.014 0.93)" font-size="51" text-anchor="middle" fill="#262626">z [km]</text>
<text transform="translate(2063.50 155.70) scale(0.988 0.9)" font-size="51" font-weight="bold" class="b" text-anchor="middle" fill="#000">pha-cx</text>
<rect x="2017.1" y="193.7" width="231.2" height="165.0" fill="#fff" stroke="#8f8f8f" stroke-width="2.2"/><line x1="2025.7" y1="224.0" x2="2114.6" y2="224.0" stroke="#ff0000" stroke-width="2.6"/><text x="2119.6" y="241.0" font-size="42" class="l" fill="#000">before</text><line x1="2025.7" y1="276.8" x2="2114.6" y2="276.8" stroke="#0000ff" stroke-width="2.6"/><text x="2119.6" y="293.8" font-size="42" class="l" fill="#000">after</text><path d="M2025.9 329.6h10.5M2048.4 329.6h12M2071.8 329.6h11M2093.6 329.6h11" stroke="#000" stroke-width="2.6"/><text x="2119.6" y="346.6" font-size="42" class="l" fill="#000">T=0</text>
<line x1="241.4" y1="1668.2" x2="241.4" y2="2775.7" stroke="#f0f0f0" stroke-width="2.6"/><line x1="305.3" y1="1668.2" x2="305.3" y2="2775.7" stroke="#f0f0f0" stroke-width="2.6"/><line x1="369.3" y1="1668.2" x2="369.3" y2="2775.7" stroke="#f0f0f0" stroke-width="2.6"/><line x1="433.2" y1="1668.2" x2="433.2" y2="2775.7" stroke="#f0f0f0" stroke-width="2.6"/><line x1="497.2" y1="1668.2" x2="497.2" y2="2775.7" stroke="#f0f0f0" stroke-width="2.6"/><line x1="561.1" y1="1668.2" x2="561.1" y2="2775.7" stroke="#f0f0f0" stroke-width="2.6"/><line x1="181.0" y1="2683.4" x2="588.2" y2="2683.4" stroke="#f0f0f0" stroke-width="2.6"/><line x1="181.0" y1="2591.1" x2="588.2" y2="2591.1" stroke="#f0f0f0" stroke-width="2.6"/><line x1="181.0" y1="2498.8" x2="588.2" y2="2498.8" stroke="#f0f0f0" stroke-width="2.6"/><line x1="181.0" y1="2406.5" x2="588.2" y2="2406.5" stroke="#f0f0f0" stroke-width="2.6"/><line x1="181.0" y1="2314.2" x2="588.2" y2="2314.2" stroke="#f0f0f0" stroke-width="2.6"/><line x1="181.0" y1="2221.9" x2="588.2" y2="2221.9" stroke="#f0f0f0" stroke-width="2.6"/><line x1="181.0" y1="2129.7" x2="588.2" y2="2129.7" stroke="#f0f0f0" stroke-width="2.6"/><line x1="181.0" y1="2037.4" x2="588.2" y2="2037.4" stroke="#f0f0f0" stroke-width="2.6"/><line x1="181.0" y1="1945.1" x2="588.2" y2="1945.1" stroke="#f0f0f0" stroke-width="2.6"/><line x1="181.0" y1="1852.8" x2="588.2" y2="1852.8" stroke="#f0f0f0" stroke-width="2.6"/><line x1="181.0" y1="1760.5" x2="588.2" y2="1760.5" stroke="#f0f0f0" stroke-width="2.6"/>
<path d="M241.4 2775.7v-11M241.4 1668.2v11M305.3 2775.7v-11M305.3 1668.2v11M369.3 2775.7v-11M369.3 1668.2v11M433.2 2775.7v-11M433.2 1668.2v11M497.2 2775.7v-11M497.2 1668.2v11M561.1 2775.7v-11M561.1 1668.2v11M181.0 2683.4h11M588.2 2683.4h-11M181.0 2591.1h11M588.2 2591.1h-11M181.0 2498.8h11M588.2 2498.8h-11M181.0 2406.5h11M588.2 2406.5h-11M181.0 2314.2h11M588.2 2314.2h-11M181.0 2221.9h11M588.2 2221.9h-11M181.0 2129.7h11M588.2 2129.7h-11M181.0 2037.4h11M588.2 2037.4h-11M181.0 1945.1h11M588.2 1945.1h-11M181.0 1852.8h11M588.2 1852.8h-11M181.0 1760.5h11M588.2 1760.5h-11M181.0 1668.2h11M588.2 1668.2h-11" stroke="#a0a0a0" stroke-width="2.2" fill="none"/>
<rect x="181.0" y="1668.2" width="407.2" height="1107.5" fill="none" stroke="#8a8a8a" stroke-width="2.4"/>
<polyline points="214.3,1713.1 240.5,1726.2 266.7,1738.0 285.0,1753.7 291.6,1766.8 295.5,1779.9 312.5,1816.6 317.8,1842.8 328.3,1866.3 332.2,1871.6 332.2,1892.5 328.3,1900.4 332.2,1913.5 340.1,1934.5 347.9,1958.0 357.1,1976.4 361.0,2010.4 374.1,2049.7 384.6,2070.7 384.6,2089.0 395.1,2112.6 397.7,2133.6 397.7,2144.1 404.2,2165.0 405.5,2191.2 410.8,2212.2 412.1,2217.0 416.0,2253.7 418.6,2295.6 422.6,2316.6 427.8,2340.1 433.1,2374.2 434.4,2405.6 438.3,2452.8 440.9,2473.7 440.9,2494.7 442.2,2515.7 452.7,2526.1 465.8,2536.6 478.9,2565.4 485.5,2583.8 486.8,2604.7 493.3,2620.5 498.6,2641.4 506.4,2657.1 518.2,2672.9 531.3,2691.2 541.8,2706.9 549.6,2714.8 560.1,2727.9 566.7,2741.0 573.2,2754.1" fill="none" stroke="#ff0000" stroke-width="2.5" stroke-linejoin="round" clip-path="url(#c10)"/>
<polyline points="181.5,1713.1 198.6,1727.5 206.4,1740.6 206.4,1752.4 218.2,1765.5 219.5,1795.6 227.4,1819.2 240.5,1845.4 245.7,1858.5 258.8,1871.6 261.5,1887.3 277.2,1913.5 279.8,1929.2 283.7,1944.9 290.3,1965.9 294.2,1992.1 308.6,2018.3 313.9,2041.9 324.3,2070.7 336.1,2086.4 347.9,2102.1 355.8,2123.1 370.2,2154.5 379.3,2183.4 388.5,2214.8 384.6,2217.0 392.4,2243.2 400.3,2269.4 408.2,2285.1 416.0,2311.3 426.5,2337.5 433.1,2371.6 434.4,2387.3 433.1,2410.9 431.7,2434.4 430.4,2458.0 433.1,2481.6 439.6,2494.7 452.7,2510.4 463.2,2523.5 473.7,2547.1 486.8,2578.5 492.0,2602.1 499.9,2617.8 507.7,2641.4 518.2,2657.1 531.3,2675.5 541.8,2691.2 557.5,2704.3 573.2,2717.4 585.0,2730.5 587.6,2741.0 587.6,2754.1" fill="none" stroke="#0000ff" stroke-width="2.5" stroke-linejoin="round" clip-path="url(#c10)"/>
<polyline points="185.5,1753.7 189.4,1758.9 197.3,1777.3 209.1,1793.0 214.3,1811.3 224.8,1829.7 240.5,1845.4 258.8,1871.6 266.7,1897.8 273.2,1924.0 283.7,1950.2 291.6,1984.2 303.4,2007.8 311.2,2034.0 319.1,2044.5 332.2,2062.8 334.8,2075.9 347.9,2102.1 355.8,2123.1 368.9,2151.9 379.3,2183.4 388.5,2214.8 387.2,2217.0 395.1,2243.2 400.3,2269.4 410.8,2295.6 421.3,2321.8 427.8,2353.2 433.1,2379.4 430.4,2416.1 427.8,2444.9 430.4,2473.7 437.0,2492.1 450.1,2505.2 463.2,2518.3 473.7,2539.2 482.8,2565.4 493.3,2581.2 495.9,2599.5 502.5,2625.7 513.0,2646.7 523.4,2659.8 531.3,2675.5 541.8,2693.8 557.5,2706.9 573.2,2720.0 581.1,2730.5 586.3,2754.1" fill="none" stroke="#000" stroke-width="2.5" stroke-linejoin="round" stroke-dasharray="9 12.8" clip-path="url(#c10)"/>
<clipPath id="c10"><rect x="179.7" y="1666.9" width="409.8" height="1110.1"/></clipPath>
<g font-size="46.5" fill="#262626"><text transform="translate(166.20 2701.01) scale(0.965 1.04)" text-anchor="end">1</text><text transform="translate(166.20 2608.72) scale(0.965 1.04)" text-anchor="end">2</text><text transform="translate(166.20 2516.42) scale(0.965 1.04)" text-anchor="end">3</text><text transform="translate(166.20 2424.13) scale(0.965 1.04)" text-anchor="end">4</text><text transform="translate(166.20 2331.84) scale(0.965 1.04)" text-anchor="end">5</text><text transform="translate(166.20 2239.55) scale(0.965 1.04)" text-anchor="end">6</text><text transform="translate(166.20 2147.26) scale(0.965 1.04)" text-anchor="end">7</text><text transform="translate(166.20 2054.97) scale(0.965 1.04)" text-anchor="end">8</text><text transform="translate(166.20 1962.67) scale(0.965 1.04)" text-anchor="end">9</text><text transform="translate(166.20 1870.38) scale(0.965 1.04)" text-anchor="end">10</text><text transform="translate(166.20 1778.09) scale(0.965 1.04)" text-anchor="end">11</text><text transform="translate(166.20 1685.80) scale(0.965 1.04)" text-anchor="end">12</text></g>
<g font-size="46.5" fill="#262626"><text transform="translate(263.40 2814.20) rotate(-45) scale(0.965 1.04)" text-anchor="end" dominant-baseline="central">0</text><text transform="translate(327.34 2814.20) rotate(-45) scale(0.965 1.04)" text-anchor="end" dominant-baseline="central">20</text><text transform="translate(391.28 2814.20) rotate(-45) scale(0.965 1.04)" text-anchor="end" dominant-baseline="central">40</text><text transform="translate(455.22 2814.20) rotate(-45) scale(0.965 1.04)" text-anchor="end" dominant-baseline="central">60</text><text transform="translate(519.16 2814.20) rotate(-45) scale(0.965 1.04)" text-anchor="end" dominant-baseline="central">80</text><text transform="translate(583.10 2814.20) rotate(-45) scale(0.965 1.04)" text-anchor="end" dominant-baseline="central">100</text></g>
<text transform="translate(384.60 2941.60) scale(1.014 0.93)" font-size="51" text-anchor="middle" fill="#262626">dBZ</text>
<text transform="translate(93.20 2221.95) rotate(-90) scale(1.014 0.93)" font-size="51" text-anchor="middle" fill="#262626">z [km]</text>
<text transform="translate(384.60 1652.30) scale(0.988 0.9)" font-size="51" font-weight="bold" class="b" text-anchor="middle" fill="#000">pow</text>
<rect x="338.2" y="1690.3" width="231.2" height="165.0" fill="#fff" stroke="#8f8f8f" stroke-width="2.2"/><line x1="346.8" y1="1720.6" x2="435.7" y2="1720.6" stroke="#ff0000" stroke-width="2.6"/><text x="440.7" y="1737.6" font-size="42" class="l" fill="#000">before</text><line x1="346.8" y1="1773.4" x2="435.7" y2="1773.4" stroke="#0000ff" stroke-width="2.6"/><text x="440.7" y="1790.4" font-size="42" class="l" fill="#000">after</text><path d="M347.0 1826.2h10.5M369.5 1826.2h12M392.9 1826.2h11M414.7 1826.2h11" stroke="#000" stroke-width="2.6"/><text x="440.7" y="1843.2" font-size="42" class="l" fill="#000">T0</text>
<line x1="947.9" y1="1668.2" x2="947.9" y2="2775.7" stroke="#f0f0f0" stroke-width="2.6"/><line x1="1147.1" y1="1668.2" x2="1147.1" y2="2775.7" stroke="#f0f0f0" stroke-width="2.6"/><line x1="748.7" y1="2683.4" x2="1155.9" y2="2683.4" stroke="#f0f0f0" stroke-width="2.6"/><line x1="748.7" y1="2591.1" x2="1155.9" y2="2591.1" stroke="#f0f0f0" stroke-width="2.6"/><line x1="748.7" y1="2498.8" x2="1155.9" y2="2498.8" stroke="#f0f0f0" stroke-width="2.6"/><line x1="748.7" y1="2406.5" x2="1155.9" y2="2406.5" stroke="#f0f0f0" stroke-width="2.6"/><line x1="748.7" y1="2314.2" x2="1155.9" y2="2314.2" stroke="#f0f0f0" stroke-width="2.6"/><line x1="748.7" y1="2221.9" x2="1155.9" y2="2221.9" stroke="#f0f0f0" stroke-width="2.6"/><line x1="748.7" y1="2129.7" x2="1155.9" y2="2129.7" stroke="#f0f0f0" stroke-width="2.6"/><line x1="748.7" y1="2037.4" x2="1155.9" y2="2037.4" stroke="#f0f0f0" stroke-width="2.6"/><line x1="748.7" y1="1945.1" x2="1155.9" y2="1945.1" stroke="#f0f0f0" stroke-width="2.6"/><line x1="748.7" y1="1852.8" x2="1155.9" y2="1852.8" stroke="#f0f0f0" stroke-width="2.6"/><line x1="748.7" y1="1760.5" x2="1155.9" y2="1760.5" stroke="#f0f0f0" stroke-width="2.6"/>
<path d="M748.7 2775.7v-11M748.7 1668.2v11M947.9 2775.7v-11M947.9 1668.2v11M1147.1 2775.7v-11M1147.1 1668.2v11M748.7 2683.4h11M1155.9 2683.4h-11M748.7 2591.1h11M1155.9 2591.1h-11M748.7 2498.8h11M1155.9 2498.8h-11M748.7 2406.5h11M1155.9 2406.5h-11M748.7 2314.2h11M1155.9 2314.2h-11M748.7 2221.9h11M1155.9 2221.9h-11M748.7 2129.7h11M1155.9 2129.7h-11M748.7 2037.4h11M1155.9 2037.4h-11M748.7 1945.1h11M1155.9 1945.1h-11M748.7 1852.8h11M1155.9 1852.8h-11M748.7 1760.5h11M1155.9 1760.5h-11M748.7 1668.2h11M1155.9 1668.2h-11" stroke="#a0a0a0" stroke-width="2.2" fill="none"/>
<rect x="748.7" y="1668.2" width="407.2" height="1107.5" fill="none" stroke="#8a8a8a" stroke-width="2.4"/>
<polyline points="749.3,1698.7 925.4,1707.8 1087.8,1711.8 1125.8,1726.2 1108.8,1736.7 1098.3,1751.1 1098.3,1774.7 1087.8,1806.1 1093.1,1832.3 1090.4,1845.4 1102.2,1861.1 1093.1,1871.6 1090.4,1897.8 1087.8,1926.6 1061.6,1947.6 1053.8,1960.7 1045.9,1979.0 1055.1,1994.7 1055.1,2010.4 1047.2,2020.9 1030.2,2036.6 1009.2,2060.2 980.4,2083.8 975.2,2112.6 967.3,2128.3 967.3,2154.5 960.8,2172.9 964.7,2196.5 955.5,2206.9 951.6,2217.0 947.7,2238.0 943.7,2256.3 935.9,2272.0 934.6,2287.7 922.8,2308.7 914.9,2327.0 909.7,2340.1 907.1,2366.3 909.7,2387.3 913.6,2405.6 909.7,2424.0 912.3,2439.7 920.2,2447.5 913.6,2465.9 909.7,2479.0 908.4,2499.9 899.2,2515.7 891.3,2528.8 884.8,2541.9 870.4,2552.3 849.4,2560.2 823.2,2565.4 815.4,2578.5 802.3,2594.3 789.2,2607.4 783.9,2620.5 776.1,2638.8 770.8,2657.1 768.2,2688.6 768.2,2727.9 770.8,2754.1" fill="none" stroke="#ff0000" stroke-width="2.5" stroke-linejoin="round" clip-path="url(#c11)"/>
<polyline points="749.9,1668.5 749.9,1698.7 820.6,1711.8 888.7,1724.9 951.6,1731.4 1031.5,1739.3 1018.4,1752.4 1036.7,1766.8 1006.6,1779.9 1010.5,1819.2 1027.6,1832.3 1028.9,1861.1 1056.4,1866.3 1093.1,1874.2 1129.7,1887.3 1148.1,1913.5 1142.8,1926.6 1150.7,1942.3 1128.4,1952.8 1119.3,1967.2 1098.3,1984.2 1090.4,1992.1 1065.6,2020.9 1070.8,2034.0 1040.7,2057.6 1022.3,2073.3 1019.7,2091.7 1023.6,2110.0 1015.8,2128.3 1024.9,2138.8 1018.4,2151.9 1021.0,2167.6 1004.0,2180.7 1011.8,2212.2 1013.2,2217.0 1006.6,2238.0 1002.7,2261.5 990.9,2274.6 975.2,2287.7 977.8,2300.8 951.6,2316.6 943.7,2337.5 937.2,2353.2 937.2,2366.3 929.3,2379.4 930.6,2395.2 943.7,2408.2 937.2,2421.3 941.1,2434.4 938.5,2460.6 946.3,2473.7 935.9,2492.1 917.5,2513.0 899.2,2523.5 891.3,2528.8 891.3,2541.9 859.9,2549.7 849.4,2557.6 845.5,2568.1 820.6,2581.2 802.3,2594.3 785.2,2617.8 776.1,2644.0 772.1,2667.6 770.8,2688.6 770.8,2714.8 772.1,2754.1" fill="none" stroke="#0000ff" stroke-width="2.5" stroke-linejoin="round" clip-path="url(#c11)"/>
<polyline points="749.9,1668.5 749.9,1738.0 781.3,1741.9 846.8,1747.1 925.4,1756.3 959.4,1764.2 972.5,1774.7 985.6,1798.2 996.1,1816.6 1006.6,1829.7 1027.6,1842.8 1035.4,1855.9 1053.8,1863.7 1098.3,1874.2 1108.8,1889.9 1121.9,1903.0 1145.5,1910.9 1155.9,1924.0 1148.1,1942.3 1135.0,1958.0 1119.3,1973.8 1098.3,1989.5 1087.8,2005.2 1082.6,2028.8 1069.5,2049.7 1056.4,2065.5 1042.0,2078.6 1028.9,2089.0 1028.9,2099.5 1026.3,2115.2 1027.6,2133.6 1040.7,2151.9 1024.9,2167.6 1009.2,2178.1 1017.1,2196.5 1004.0,2217.0 998.7,2238.0 994.8,2258.9 988.3,2274.6 990.9,2290.4 975.2,2303.5 956.8,2316.6 956.8,2342.8 946.3,2361.1 941.1,2384.7 945.0,2400.4 941.1,2416.1 943.7,2439.7 949.0,2465.9 941.1,2481.6 925.4,2497.3 912.3,2515.7 895.3,2526.1 894.0,2534.0 888.7,2543.2 849.4,2557.6 831.1,2570.7 815.4,2581.2 802.3,2594.3 783.9,2617.8 776.1,2641.4 772.1,2667.6 770.8,2701.7 772.1,2754.1" fill="none" stroke="#000" stroke-width="2.5" stroke-linejoin="round" stroke-dasharray="9 12.8" clip-path="url(#c11)"/>
<clipPath id="c11"><rect x="747.4" y="1666.9" width="409.8" height="1110.1"/></clipPath>
<g font-size="46.5" fill="#262626"><text transform="translate(733.90 2701.01) scale(0.965 1.04)" text-anchor="end">1</text><text transform="translate(733.90 2608.72) scale(0.965 1.04)" text-anchor="end">2</text><text transform="translate(733.90 2516.42) scale(0.965 1.04)" text-anchor="end">3</text><text transform="translate(733.90 2424.13) scale(0.965 1.04)" text-anchor="end">4</text><text transform="translate(733.90 2331.84) scale(0.965 1.04)" text-anchor="end">5</text><text transform="translate(733.90 2239.55) scale(0.965 1.04)" text-anchor="end">6</text><text transform="translate(733.90 2147.26) scale(0.965 1.04)" text-anchor="end">7</text><text transform="translate(733.90 2054.97) scale(0.965 1.04)" text-anchor="end">8</text><text transform="translate(733.90 1962.67) scale(0.965 1.04)" text-anchor="end">9</text><text transform="translate(733.90 1870.38) scale(0.965 1.04)" text-anchor="end">10</text><text transform="translate(733.90 1778.09) scale(0.965 1.04)" text-anchor="end">11</text><text transform="translate(733.90 1685.80) scale(0.965 1.04)" text-anchor="end">12</text></g>
<g font-size="46.5" fill="#262626"><text transform="translate(748.70 2839.20) scale(0.965 1.04)" text-anchor="middle">0</text><text transform="translate(947.90 2839.20) scale(0.965 1.04)" text-anchor="middle">1</text><text transform="translate(1147.10 2839.20) scale(0.965 1.04)" text-anchor="middle">2</text></g>
<text transform="translate(952.30 2903.10) scale(1.014 0.93)" font-size="51" text-anchor="middle" fill="#262626">grad</text>
<text transform="translate(660.90 2221.95) rotate(-90) scale(1.014 0.93)" font-size="51" text-anchor="middle" fill="#262626">z [km]</text>
<text transform="translate(952.30 1652.30) scale(0.988 0.9)" font-size="51" font-weight="bold" class="b" text-anchor="middle" fill="#000">pha</text>
<rect x="905.9" y="2587.9" width="231.2" height="165.0" fill="#fff" stroke="#8f8f8f" stroke-width="2.2"/><line x1="914.5" y1="2618.2" x2="1003.4" y2="2618.2" stroke="#ff0000" stroke-width="2.6"/><text x="1008.4" y="2635.2" font-size="42" class="l" fill="#000">before</text><line x1="914.5" y1="2671.0" x2="1003.4" y2="2671.0" stroke="#0000ff" stroke-width="2.6"/><text x="1008.4" y="2688.0" font-size="42" class="l" fill="#000">after</text><path d="M914.7 2723.8h10.5M937.2 2723.8h12M960.6 2723.8h11M982.4 2723.8h11" stroke="#000" stroke-width="2.6"/><text x="1008.4" y="2740.8" font-size="42" class="l" fill="#000">T=0</text>
<line x1="1399.4" y1="1668.2" x2="1399.4" y2="2775.7" stroke="#f0f0f0" stroke-width="2.6"/><line x1="1475.2" y1="1668.2" x2="1475.2" y2="2775.7" stroke="#f0f0f0" stroke-width="2.6"/><line x1="1550.9" y1="1668.2" x2="1550.9" y2="2775.7" stroke="#f0f0f0" stroke-width="2.6"/><line x1="1626.7" y1="1668.2" x2="1626.7" y2="2775.7" stroke="#f0f0f0" stroke-width="2.6"/><line x1="1702.4" y1="1668.2" x2="1702.4" y2="2775.7" stroke="#f0f0f0" stroke-width="2.6"/><line x1="1318.1" y1="2683.4" x2="1725.3" y2="2683.4" stroke="#f0f0f0" stroke-width="2.6"/><line x1="1318.1" y1="2591.1" x2="1725.3" y2="2591.1" stroke="#f0f0f0" stroke-width="2.6"/><line x1="1318.1" y1="2498.8" x2="1725.3" y2="2498.8" stroke="#f0f0f0" stroke-width="2.6"/><line x1="1318.1" y1="2406.5" x2="1725.3" y2="2406.5" stroke="#f0f0f0" stroke-width="2.6"/><line x1="1318.1" y1="2314.2" x2="1725.3" y2="2314.2" stroke="#f0f0f0" stroke-width="2.6"/><line x1="1318.1" y1="2221.9" x2="1725.3" y2="2221.9" stroke="#f0f0f0" stroke-width="2.6"/><line x1="1318.1" y1="2129.7" x2="1725.3" y2="2129.7" stroke="#f0f0f0" stroke-width="2.6"/><line x1="1318.1" y1="2037.4" x2="1725.3" y2="2037.4" stroke="#f0f0f0" stroke-width="2.6"/><line x1="1318.1" y1="1945.1" x2="1725.3" y2="1945.1" stroke="#f0f0f0" stroke-width="2.6"/><line x1="1318.1" y1="1852.8" x2="1725.3" y2="1852.8" stroke="#f0f0f0" stroke-width="2.6"/><line x1="1318.1" y1="1760.5" x2="1725.3" y2="1760.5" stroke="#f0f0f0" stroke-width="2.6"/>
<path d="M1399.4 2775.7v-11M1399.4 1668.2v11M1475.2 2775.7v-11M1475.2 1668.2v11M1550.9 2775.7v-11M1550.9 1668.2v11M1626.7 2775.7v-11M1626.7 1668.2v11M1702.4 2775.7v-11M1702.4 1668.2v11M1318.1 2683.4h11M1725.3 2683.4h-11M1318.1 2591.1h11M1725.3 2591.1h-11M1318.1 2498.8h11M1725.3 2498.8h-11M1318.1 2406.5h11M1725.3 2406.5h-11M1318.1 2314.2h11M1725.3 2314.2h-11M1318.1 2221.9h11M1725.3 2221.9h-11M1318.1 2129.7h11M1725.3 2129.7h-11M1318.1 2037.4h11M1725.3 2037.4h-11M1318.1 1945.1h11M1725.3 1945.1h-11M1318.1 1852.8h11M1725.3 1852.8h-11M1318.1 1760.5h11M1725.3 1760.5h-11M1318.1 1668.2h11M1725.3 1668.2h-11" stroke="#a0a0a0" stroke-width="2.2" fill="none"/>
<rect x="1318.1" y="1668.2" width="407.2" height="1107.5" fill="none" stroke="#8a8a8a" stroke-width="2.4"/>
<polyline points="1350.3,1713.1 1368.6,1724.9 1387.0,1738.0 1397.5,1752.4 1404.0,1765.5 1410.6,1790.4 1418.4,1814.0 1423.7,1840.2 1430.2,1861.1 1434.1,1887.3 1439.4,1921.4 1447.2,1950.2 1453.8,1979.0 1460.3,2007.8 1465.6,2034.0 1473.4,2065.5 1478.7,2091.7 1486.5,2112.6 1491.8,2133.6 1495.7,2154.5 1503.6,2175.5 1506.2,2199.1 1511.4,2217.0 1515.3,2232.7 1516.7,2258.9 1520.6,2290.4 1524.5,2316.6 1528.4,2348.0 1533.7,2379.4 1535.0,2400.4 1533.7,2416.1 1538.9,2447.5 1542.9,2468.5 1544.2,2499.9 1545.5,2515.7 1567.7,2528.8 1588.7,2541.9 1596.6,2552.3 1595.3,2596.9 1599.2,2610.0 1608.4,2623.1 1613.6,2641.4 1633.2,2678.1 1651.6,2696.4 1669.9,2717.4 1683.0,2730.5 1692.2,2741.0 1693.5,2754.1" fill="none" stroke="#ff0000" stroke-width="2.5" stroke-linejoin="round" clip-path="url(#c12)"/>
<polyline points="1321.5,1713.1 1334.6,1724.9 1342.4,1738.0 1347.7,1756.3 1354.2,1769.4 1358.2,1785.1 1355.5,1806.1 1363.4,1819.2 1371.3,1834.9 1373.9,1850.6 1379.1,1871.6 1387.0,1889.9 1394.8,1910.9 1401.4,1937.1 1409.2,1971.1 1415.8,2007.8 1423.7,2044.5 1431.5,2065.5 1442.0,2089.0 1449.9,2102.1 1457.7,2117.9 1465.6,2141.4 1473.4,2157.2 1480.0,2175.5 1485.2,2199.1 1490.5,2217.0 1497.0,2238.0 1504.9,2256.3 1518.0,2285.1 1523.2,2306.1 1531.1,2329.7 1536.3,2363.7 1540.2,2382.1 1537.6,2400.4 1533.7,2416.1 1533.7,2447.5 1536.3,2486.8 1545.5,2499.9 1565.1,2518.3 1586.1,2539.2 1599.2,2552.3 1601.8,2568.1 1612.3,2581.2 1616.2,2604.7 1625.4,2646.7 1635.9,2662.4 1646.3,2683.3 1662.1,2696.4 1683.0,2712.2 1698.7,2722.6 1709.2,2730.5 1719.7,2741.0 1723.6,2754.1" fill="none" stroke="#0000ff" stroke-width="2.5" stroke-linejoin="round" clip-path="url(#c12)"/>
<polyline points="1321.5,1756.3 1329.3,1761.6 1337.2,1777.3 1343.7,1800.9 1347.7,1814.0 1355.5,1824.4 1363.4,1845.4 1371.3,1858.5 1377.8,1879.4 1384.4,1897.8 1392.2,1921.4 1401.4,1937.1 1409.2,1971.1 1415.8,2007.8 1426.3,2044.5 1436.8,2065.5 1443.3,2086.4 1449.9,2102.1 1457.7,2117.9 1465.6,2141.4 1476.1,2159.8 1481.3,2178.1 1485.2,2199.1 1491.8,2217.0 1498.3,2238.0 1504.9,2266.8 1518.0,2290.4 1524.5,2316.6 1528.4,2348.0 1535.0,2376.8 1532.4,2400.4 1532.4,2421.3 1533.7,2452.8 1538.9,2481.6 1552.0,2499.9 1573.0,2515.7 1586.1,2531.4 1599.2,2552.3 1609.7,2570.7 1618.8,2589.0 1616.2,2604.7 1625.4,2641.4 1635.9,2657.1 1645.0,2672.9 1651.6,2686.0 1672.5,2701.7 1690.9,2714.8 1706.6,2730.5 1722.3,2754.1" fill="none" stroke="#000" stroke-width="2.5" stroke-linejoin="round" stroke-dasharray="9 12.8" clip-path="url(#c12)"/>
<clipPath id="c12"><rect x="1316.8" y="1666.9" width="409.8" height="1110.1"/></clipPath>
<g font-size="46.5" fill="#262626"><text transform="translate(1303.30 2701.01) scale(0.965 1.04)" text-anchor="end">1</text><text transform="translate(1303.30 2608.72) scale(0.965 1.04)" text-anchor="end">2</text><text transform="translate(1303.30 2516.42) scale(0.965 1.04)" text-anchor="end">3</text><text transform="translate(1303.30 2424.13) scale(0.965 1.04)" text-anchor="end">4</text><text transform="translate(1303.30 2331.84) scale(0.965 1.04)" text-anchor="end">5</text><text transform="translate(1303.30 2239.55) scale(0.965 1.04)" text-anchor="end">6</text><text transform="translate(1303.30 2147.26) scale(0.965 1.04)" text-anchor="end">7</text><text transform="translate(1303.30 2054.97) scale(0.965 1.04)" text-anchor="end">8</text><text transform="translate(1303.30 1962.67) scale(0.965 1.04)" text-anchor="end">9</text><text transform="translate(1303.30 1870.38) scale(0.965 1.04)" text-anchor="end">10</text><text transform="translate(1303.30 1778.09) scale(0.965 1.04)" text-anchor="end">11</text><text transform="translate(1303.30 1685.80) scale(0.965 1.04)" text-anchor="end">12</text></g>
<g font-size="46.5" fill="#262626"><text transform="translate(1421.40 2814.20) rotate(-45) scale(0.965 1.04)" text-anchor="end" dominant-baseline="central">-20</text><text transform="translate(1497.15 2814.20) rotate(-45) scale(0.965 1.04)" text-anchor="end" dominant-baseline="central">0</text><text transform="translate(1572.90 2814.20) rotate(-45) scale(0.965 1.04)" text-anchor="end" dominant-baseline="central">20</text><text transform="translate(1648.65 2814.20) rotate(-45) scale(0.965 1.04)" text-anchor="end" dominant-baseline="central">40</text><text transform="translate(1724.40 2814.20) rotate(-45) scale(0.965 1.04)" text-anchor="end" dominant-baseline="central">60</text></g>
<text transform="translate(1521.70 2934.10) scale(1.014 0.93)" font-size="51" text-anchor="middle" fill="#262626">dBZ</text>
<text transform="translate(1230.30 2221.95) rotate(-90) scale(1.014 0.93)" font-size="51" text-anchor="middle" fill="#262626">z [km]</text>
<text transform="translate(1521.70 1652.30) scale(0.988 0.9)" font-size="51" font-weight="bold" class="b" text-anchor="middle" fill="#000">pow-cx</text>
<rect x="1475.3" y="1690.3" width="231.2" height="165.0" fill="#fff" stroke="#8f8f8f" stroke-width="2.2"/><line x1="1483.9" y1="1720.6" x2="1572.8" y2="1720.6" stroke="#ff0000" stroke-width="2.6"/><text x="1577.8" y="1737.6" font-size="42" class="l" fill="#000">before</text><line x1="1483.9" y1="1773.4" x2="1572.8" y2="1773.4" stroke="#0000ff" stroke-width="2.6"/><text x="1577.8" y="1790.4" font-size="42" class="l" fill="#000">after</text><path d="M1484.1 1826.2h10.5M1506.6 1826.2h12M1530.0 1826.2h11M1551.8 1826.2h11" stroke="#000" stroke-width="2.6"/><text x="1577.8" y="1843.2" font-size="42" class="l" fill="#000">T=0</text>
<line x1="2090.8" y1="1668.2" x2="2090.8" y2="2775.7" stroke="#f0f0f0" stroke-width="2.6"/><line x1="1887.7" y1="2683.4" x2="2294.0" y2="2683.4" stroke="#f0f0f0" stroke-width="2.6"/><line x1="1887.7" y1="2591.1" x2="2294.0" y2="2591.1" stroke="#f0f0f0" stroke-width="2.6"/><line x1="1887.7" y1="2498.8" x2="2294.0" y2="2498.8" stroke="#f0f0f0" stroke-width="2.6"/><line x1="1887.7" y1="2406.5" x2="2294.0" y2="2406.5" stroke="#f0f0f0" stroke-width="2.6"/><line x1="1887.7" y1="2314.2" x2="2294.0" y2="2314.2" stroke="#f0f0f0" stroke-width="2.6"/><line x1="1887.7" y1="2221.9" x2="2294.0" y2="2221.9" stroke="#f0f0f0" stroke-width="2.6"/><line x1="1887.7" y1="2129.7" x2="2294.0" y2="2129.7" stroke="#f0f0f0" stroke-width="2.6"/><line x1="1887.7" y1="2037.4" x2="2294.0" y2="2037.4" stroke="#f0f0f0" stroke-width="2.6"/><line x1="1887.7" y1="1945.1" x2="2294.0" y2="1945.1" stroke="#f0f0f0" stroke-width="2.6"/><line x1="1887.7" y1="1852.8" x2="2294.0" y2="1852.8" stroke="#f0f0f0" stroke-width="2.6"/><line x1="1887.7" y1="1760.5" x2="2294.0" y2="1760.5" stroke="#f0f0f0" stroke-width="2.6"/>
<path d="M1887.7 2775.7v-11M1887.7 1668.2v11M2090.8 2775.7v-11M2090.8 1668.2v11M2294.0 2775.7v-11M2294.0 1668.2v11M1887.7 2683.4h11M2294.0 2683.4h-11M1887.7 2591.1h11M2294.0 2591.1h-11M1887.7 2498.8h11M2294.0 2498.8h-11M1887.7 2406.5h11M2294.0 2406.5h-11M1887.7 2314.2h11M2294.0 2314.2h-11M1887.7 2221.9h11M2294.0 2221.9h-11M1887.7 2129.7h11M2294.0 2129.7h-11M1887.7 2037.4h11M2294.0 2037.4h-11M1887.7 1945.1h11M2294.0 1945.1h-11M1887.7 1852.8h11M2294.0 1852.8h-11M1887.7 1760.5h11M2294.0 1760.5h-11M1887.7 1668.2h11M2294.0 1668.2h-11" stroke="#a0a0a0" stroke-width="2.2" fill="none"/>
<rect x="1887.7" y="1668.2" width="406.3" height="1107.5" fill="none" stroke="#8a8a8a" stroke-width="2.4"/>
<polyline points="1886.8,1668.5 1886.8,1766.8 1887.0,1897.8 1889.6,2002.6 1892.8,2081.2 1898.0,2133.6 1904.6,2186.0 1908.5,2217.0 1909.8,2269.4 1912.4,2308.7 1912.4,2342.8 1919.0,2369.0 1922.9,2392.5 1920.3,2437.1 1922.9,2476.4 1928.2,2489.5 1922.9,2499.9 1925.5,2515.7 1959.6,2528.8 2067.0,2540.6 2077.5,2555.0 2043.4,2568.1 2074.9,2594.3 2078.8,2610.0 2127.3,2633.6 2292.3,2672.9 2326.4,2683.3 2326.4,2733.1 2292.3,2737.0 2268.7,2741.0 2122.0,2754.1" fill="none" stroke="#ff0000" stroke-width="2.5" stroke-linejoin="round" clip-path="url(#c13)"/>
<polyline points="1886.8,1668.5 1886.8,1950.2 1887.5,2107.4 1891.5,2159.8 1895.4,2217.0 1902.0,2256.3 1909.8,2295.6 1920.3,2321.8 1926.8,2340.1 1932.1,2374.2 1937.3,2395.2 1932.1,2416.1 1929.5,2452.8 1928.2,2479.0 1929.5,2486.8 1946.5,2498.6 1959.6,2518.3 1972.7,2527.5 1991.0,2531.4 2027.7,2541.9 2077.5,2555.0 2105.0,2581.2 2166.6,2594.3 2146.9,2607.4 2169.2,2621.8 2253.0,2633.6 2234.7,2646.7 2293.6,2659.8 2326.4,2667.6" fill="none" stroke="#0000ff" stroke-width="2.5" stroke-linejoin="round" clip-path="url(#c13)"/>
<polyline points="1886.8,1668.5 1886.8,1950.2 1888.3,2107.4 1891.5,2159.8 1895.4,2217.0 1902.0,2256.3 1909.8,2295.6 1917.7,2321.8 1924.2,2342.8 1926.8,2369.0 1934.7,2395.2 1930.8,2416.1 1926.8,2442.3 1925.5,2473.7 1929.5,2486.8 1949.1,2501.3 1962.2,2526.1 1985.8,2534.0 2025.1,2544.5 2074.9,2555.0 2143.0,2570.7 2156.1,2581.2 2221.6,2587.7 2271.4,2592.9 2292.3,2596.9 2294.9,2610.0 2266.1,2623.1 2292.3,2630.9 2326.4,2636.2" fill="none" stroke="#000" stroke-width="2.5" stroke-linejoin="round" stroke-dasharray="9 12.8" clip-path="url(#c13)"/>
<clipPath id="c13"><rect x="1886.4" y="1666.9" width="408.9" height="1110.1"/></clipPath>
<g font-size="46.5" fill="#262626"><text transform="translate(1872.90 2701.01) scale(0.965 1.04)" text-anchor="end">1</text><text transform="translate(1872.90 2608.72) scale(0.965 1.04)" text-anchor="end">2</text><text transform="translate(1872.90 2516.42) scale(0.965 1.04)" text-anchor="end">3</text><text transform="translate(1872.90 2424.13) scale(0.965 1.04)" text-anchor="end">4</text><text transform="translate(1872.90 2331.84) scale(0.965 1.04)" text-anchor="end">5</text><text transform="translate(1872.90 2239.55) scale(0.965 1.04)" text-anchor="end">6</text><text transform="translate(1872.90 2147.26) scale(0.965 1.04)" text-anchor="end">7</text><text transform="translate(1872.90 2054.97) scale(0.965 1.04)" text-anchor="end">8</text><text transform="translate(1872.90 1962.67) scale(0.965 1.04)" text-anchor="end">9</text><text transform="translate(1872.90 1870.38) scale(0.965 1.04)" text-anchor="end">10</text><text transform="translate(1872.90 1778.09) scale(0.965 1.04)" text-anchor="end">11</text><text transform="translate(1872.90 1685.80) scale(0.965 1.04)" text-anchor="end">12</text></g>
<g font-size="46.5" fill="#262626"><text transform="translate(1887.70 2839.20) scale(0.965 1.04)" text-anchor="middle">0</text><text transform="translate(2090.85 2839.20) scale(0.965 1.04)" text-anchor="middle">0.1</text><text transform="translate(2294.00 2839.20) scale(0.965 1.04)" text-anchor="middle">0.2</text></g>
<text transform="translate(2090.85 2903.10) scale(1.014 0.93)" font-size="51" text-anchor="middle" fill="#262626">grad</text>
<text transform="translate(1799.90 2221.95) rotate(-90) scale(1.014 0.93)" font-size="51" text-anchor="middle" fill="#262626">z [km]</text>
<text transform="translate(2090.85 1652.30) scale(0.988 0.9)" font-size="51" font-weight="bold" class="b" text-anchor="middle" fill="#000">pha-cx</text>
<rect x="2044.0" y="1690.3" width="231.2" height="165.0" fill="#fff" stroke="#8f8f8f" stroke-width="2.2"/><line x1="2052.6" y1="1720.6" x2="2141.5" y2="1720.6" stroke="#ff0000" stroke-width="2.6"/><text x="2146.5" y="1737.6" font-size="42" class="l" fill="#000">before</text><line x1="2052.6" y1="1773.4" x2="2141.5" y2="1773.4" stroke="#0000ff" stroke-width="2.6"/><text x="2146.5" y="1790.4" font-size="42" class="l" fill="#000">after</text><path d="M2052.8 1826.2h10.5M2075.3 1826.2h12M2098.7 1826.2h11M2120.5 1826.2h11" stroke="#000" stroke-width="2.6"/><text x="2146.5" y="1843.2" font-size="42" class="l" fill="#000">T=0</text>
</svg></body></html>
